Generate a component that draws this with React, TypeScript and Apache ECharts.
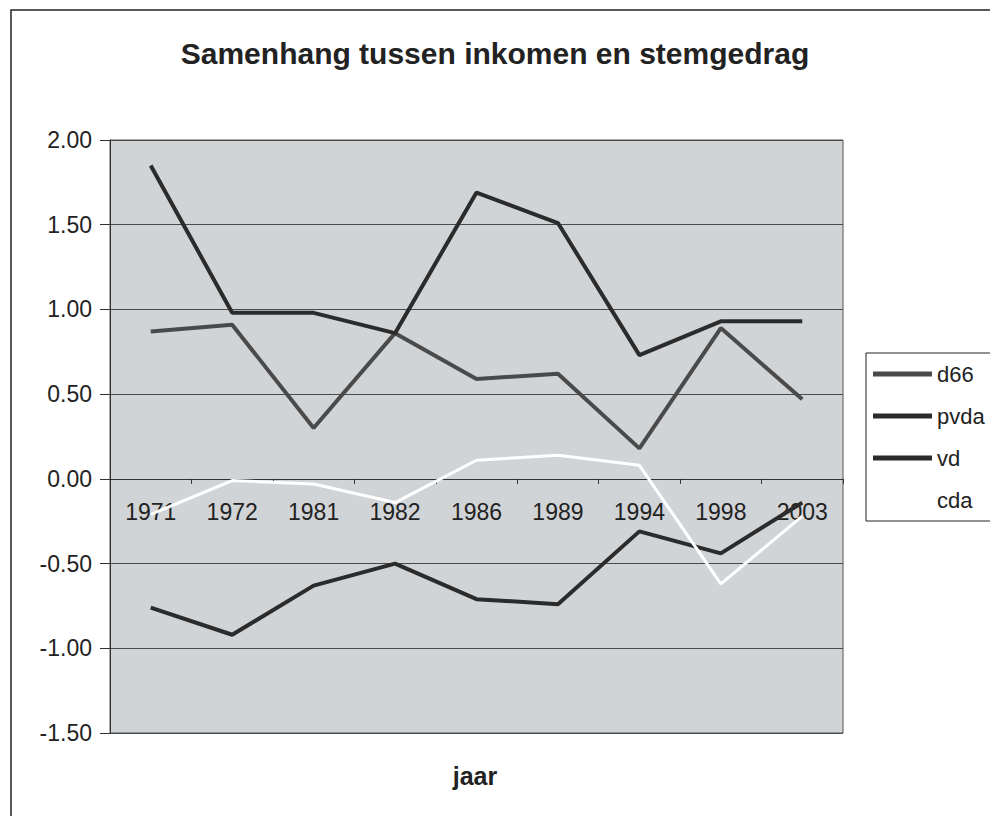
import React, { useEffect, useRef } from "react";
import * as echarts from "echarts";

const categories = ["1971", "1972", "1981", "1982", "1986", "1989", "1994", "1998", "2003"];
const d66 = [0.87, 0.91, 0.3, 0.86, 0.59, 0.62, 0.18, 0.89, 0.47];
const pvda = [-0.76, -0.92, -0.63, -0.5, -0.71, -0.74, -0.31, -0.44, -0.14];
const vd = [1.85, 0.98, 0.98, 0.86, 1.69, 1.51, 0.73, 0.93, 0.93];
const cda = [-0.21, -0.01, -0.03, -0.14, 0.11, 0.14, 0.08, -0.62, -0.22];

const seriesNames = ["d66", "pvda", "vd", "cda"];
const seriesData = [d66, pvda, vd, cda];
const seriesColors = ["#4a4a4a", "#2b2b2b", "#2b2b2b", "#ffffff"];
const seriesWidths = [4, 4, 4, 3];

const FONT = "Liberation Sans, Arial, sans-serif";

const Y_MIN = -1.5;
const Y_MAX = 2;
const GRID_TOP = 140;
const GRID_H = 593;
// x axis crosses the value axis at 0, as in the reference
const X_OFFSET = -(GRID_H * (0 - Y_MIN)) / (Y_MAX - Y_MIN);

export default function App() {
  const ref = useRef<HTMLDivElement>(null);
  useEffect(() => {
    if (!ref.current) return;
    const chart = echarts.init(ref.current, null, { renderer: "svg" });
    chart.setOption({
      animation: false,
      backgroundColor: "#ffffff",
      textStyle: { fontFamily: FONT },
      graphic: [
        {
          type: "rect",
          shape: { x: 11, y: 10, width: 1100, height: 1000 },
          style: { fill: "none", stroke: "#222", lineWidth: 1.5 },
          z: -1,
        },
        {
          type: "text",
          x: 495,
          y: 53,
          style: {
            text: "Samenhang tussen inkomen en stemgedrag",
            font: "bold 30px " + FONT,
            fill: "#222",
            align: "center",
            verticalAlign: "middle",
          },
        },
        {
          type: "text",
          x: 475,
          y: 776,
          style: {
            text: "jaar",
            font: "bold 25px " + FONT,
            fill: "#222",
            align: "center",
            verticalAlign: "middle",
          },
        },
      ],
      legend: {
        orient: "vertical",
        left: 866,
        top: 353,
        data: seriesNames,
        icon: "rect",
        itemWidth: 59,
        itemHeight: 5,
        itemGap: 20,
        padding: [10, 40, 10, 7],
        backgroundColor: "#ffffff",
        borderColor: "#222",
        borderWidth: 1,
        textStyle: { fontSize: 22, color: "#222", fontFamily: FONT },
      },
      grid: {
        left: 110,
        top: GRID_TOP,
        width: 733,
        height: GRID_H,
        show: true,
        backgroundColor: "#d1d4d7",
        borderColor: "#555",
        borderWidth: 1,
      },
      xAxis: {
        type: "category",
        data: categories,
        boundaryGap: true,
        offset: X_OFFSET,
        axisLine: { onZero: false, lineStyle: { color: "#333", width: 1 } },
        axisTick: { show: true, length: 5, lineStyle: { color: "#333" } },
        axisLabel: { fontSize: 23, color: "#222", margin: 22, fontFamily: FONT },
        splitLine: { show: false },
      },
      yAxis: {
        type: "value",
        min: Y_MIN,
        max: Y_MAX,
        interval: 0.5,
        axisLine: { show: true, lineStyle: { color: "#333", width: 1 } },
        axisTick: { show: true, length: 10, lineStyle: { color: "#333" } },
        axisLabel: {
          fontSize: 23,
          color: "#222",
          margin: 18,
          fontFamily: FONT,
          formatter: (v: number) => v.toFixed(2),
        },
        splitLine: { show: true, lineStyle: { color: "#4a4a4a", width: 1 } },
      },
      series: seriesNames.map((name, i) => ({
        name,
        type: "line",
        data: seriesData[i],
        showSymbol: false,
        symbol: "none",
        lineStyle: { color: seriesColors[i], width: seriesWidths[i] },
        itemStyle: { color: seriesColors[i] },
      })),
    });
    return () => chart.dispose();
  }, []);
  return (
    <div
      ref={ref}
      style={{ position: "fixed", left: 0, top: 0, width: 990, height: 816 }}
    />
  );
}
